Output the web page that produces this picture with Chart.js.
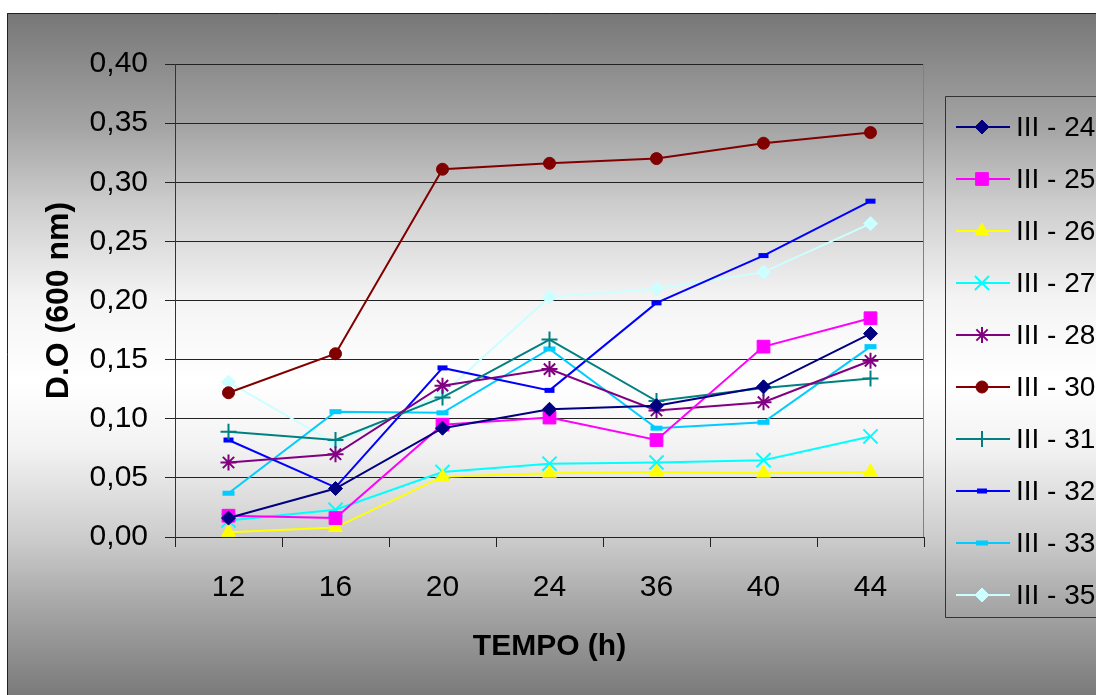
<!DOCTYPE html>
<html lang="pt">
<head>
<meta charset="UTF-8">
<title>D.O (600 nm) x TEMPO</title>
<script src="https://cdn.jsdelivr.net/npm/chart.js"></script>
<style>
    body { margin: 0; background: #fff; }
    canvas { display: block; }
</style>
</head>
<body>
<canvas id="doChart" width="1096" height="695"></canvas>
<script>
    // categorias (tempo, h)
    const tempos = ['12', '16', '20', '24', '36', '40', '44'];
    const yTickLabels = ['0,00', '0,05', '0,10', '0,15', '0,20', '0,25', '0,30', '0,35', '0,40'];

    // D.O lida em cada tempo
    const iii24 = [0.016, 0.041, 0.092, 0.108, 0.111, 0.127, 0.172];
    const iii25 = [0.018, 0.016, 0.095, 0.101, 0.082, 0.161, 0.185];
    const iii26 = [0.004, 0.008, 0.051, 0.054, 0.055, 0.054, 0.055];
    const iii27 = [0.014, 0.023, 0.055, 0.062, 0.063, 0.065, 0.085];
    const iii28 = [0.063, 0.070, 0.128, 0.142, 0.107, 0.114, 0.149];
    const iii30 = [0.122, 0.155, 0.311, 0.316, 0.320, 0.333, 0.342];
    const iii31 = [0.089, 0.082, 0.118, 0.167, 0.115, 0.126, 0.134];
    const iii32 = [0.082, 0.042, 0.143, 0.124, 0.198, 0.238, 0.284];
    const iii33 = [0.037, 0.106, 0.105, 0.159, 0.092, 0.097, 0.161];
    const iii35 = [0.131, 0.079, 0.121, 0.203, 0.210, 0.224, 0.265];

    const fonte = "'Liberation Sans', Arial, sans-serif";
    Chart.defaults.font.family = fonte;
    Chart.defaults.color = '#000';

    function serie(label, data, color, style, radius, bw) {
        return {
            label: label,
            data: data,
            borderColor: color,
            backgroundColor: color,
            borderWidth: 2,
            tension: 0,
            pointStyle: style,
            pointRadius: radius,
            pointBorderWidth: bw,
            pointBackgroundColor: color,
            pointBorderColor: color
        };
    }

    const datasets = [
        serie('III - 24', iii24, '#000080', 'rectRot', 7, 1),
        serie('III - 25', iii25, '#ff00ff', 'rect', 9, 1),
        serie('III - 26', iii26, '#ffff00', 'triangle', 8, 1),
        serie('III - 27', iii27, '#00ffff', 'crossRot', 10, 2),
        serie('III - 28', iii28, '#800080', 'star', 8, 2),
        serie('III - 30', iii30, '#800000', 'circle', 6, 1),
        serie('III - 31', iii31, '#008080', 'cross', 8, 2),
        serie('III - 32', iii32, '#0000ff', 'line', 5, 5),
        serie('III - 33', iii33, '#00ccff', 'line', 6, 5),
        serie('III - 35', iii35, '#ccffff', 'rectRot', 7, 1)
    ];

    // fundo com degradê e moldura
    const fundo = {
        id: 'fundo',
        beforeDraw(chart) {
            const ctx = chart.ctx;
            ctx.save();
            ctx.fillStyle = '#fff';
            ctx.fillRect(0, 0, chart.width, chart.height);
            const g = ctx.createLinearGradient(0, 13, 0, 695);
            g.addColorStop(0, '#777777');
            g.addColorStop(0.17, '#a5a5a5');
            g.addColorStop(0.28, '#cdcdcd');
            g.addColorStop(0.42, '#f4f4f4');
            g.addColorStop(0.54, '#ffffff');
            g.addColorStop(0.64, '#f2f2f2');
            g.addColorStop(0.77, '#cccccc');
            g.addColorStop(0.86, '#aaaaaa');
            g.addColorStop(1, '#7a7a7a');
            ctx.fillStyle = g;
            ctx.fillRect(7, 13, chart.width - 7, chart.height - 13);
            ctx.strokeStyle = '#222';
            ctx.lineWidth = 1;
            ctx.beginPath();
            ctx.moveTo(7.5, chart.height);
            ctx.lineTo(7.5, 13.5);
            ctx.lineTo(chart.width, 13.5);
            ctx.stroke();
            ctx.restore();
        },
        afterDatasetsDraw(chart) {
            const a = chart.chartArea;
            const ctx = chart.ctx;
            ctx.save();
            ctx.strokeStyle = '#808080';
            ctx.lineWidth = 1;
            ctx.beginPath();
            ctx.moveTo(a.right - 0.5, a.top);
            ctx.lineTo(a.right - 0.5, a.bottom);
            ctx.stroke();
            ctx.restore();
        }
    };

    // legenda com linha + marcador
    const legenda = {
        id: 'legenda',
        afterDraw(chart) {
            const ctx = chart.ctx;
            const x0 = 945, y0 = 96, y1 = 617, passo = 52;
            ctx.save();
            ctx.strokeStyle = '#333';
            ctx.lineWidth = 1;
            ctx.beginPath();
            ctx.moveTo(chart.width, y0 + 0.5);
            ctx.lineTo(x0 + 0.5, y0 + 0.5);
            ctx.lineTo(x0 + 0.5, y1 + 0.5);
            ctx.lineTo(chart.width, y1 + 0.5);
            ctx.stroke();
            ctx.font = '28px ' + fonte;
            ctx.textBaseline = 'middle';
            chart.data.datasets.forEach((ds, i) => {
                const y = 127 + i * passo;
                ctx.strokeStyle = ds.borderColor;
                ctx.fillStyle = ds.borderColor;
                ctx.lineWidth = 2;
                ctx.beginPath();
                ctx.moveTo(956, y);
                ctx.lineTo(1010, y);
                ctx.stroke();
                ctx.lineWidth = ds.pointBorderWidth;
                Chart.helpers.drawPoint(ctx, {
                    pointStyle: ds.pointStyle,
                    radius: ds.pointRadius,
                    rotation: 0,
                    borderWidth: ds.pointBorderWidth
                }, 982, y);
                ctx.fillStyle = '#000';
                ctx.fillText(ds.label, 1016, y + 1);
            });
            ctx.restore();
        }
    };

    new Chart(document.getElementById('doChart').getContext('2d'), {
        type: 'line',
        data: { labels: tempos, datasets: datasets },
        plugins: [fundo, legenda],
        options: {
            responsive: false,
            animation: false,
            layout: { padding: { left: 0, top: 64, right: 172, bottom: 0 } },
            plugins: {
                legend: { display: false },
                tooltip: { enabled: false }
            },
            scales: {
                x: {
                    offset: true,
                    afterFit(scale) { scale.height = 158; },
                    grid: { offset: true, drawOnChartArea: false, drawTicks: true, tickLength: 10, color: '#222' },
                    border: { color: '#222', width: 1 },
                    ticks: { font: { size: 30 }, padding: 23, color: '#000' },
                    title: {
                        display: true,
                        text: 'TEMPO (h)',
                        font: { size: 30, weight: 'bold' },
                        padding: { top: 0, bottom: 30 }
                    }
                },
                y: {
                    min: 0,
                    max: 0.4,
                    afterFit(scale) { scale.width = 175; },
                    grid: { color: '#222', lineWidth: 1, tickLength: 10 },
                    border: { color: '#333', width: 1 },
                    ticks: {
                        stepSize: 0.05,
                        padding: 17,
                        font: { size: 30 },
                        color: '#000',
                        callback: (v, i) => yTickLabels[i]
                    },
                    title: {
                        display: true,
                        text: 'D.O (600 nm)',
                        font: { size: 32, weight: 'bold' },
                        padding: { top: 40, bottom: 0 }
                    }
                }
            }
        }
    });
</script>
</body>
</html>
